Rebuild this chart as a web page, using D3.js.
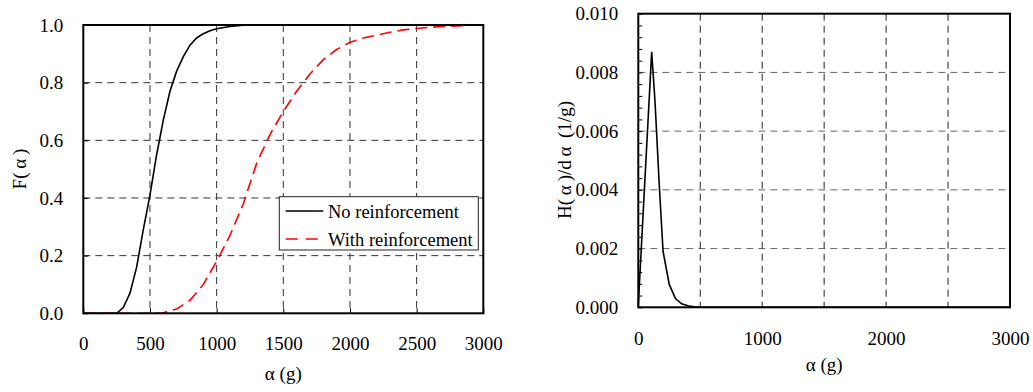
<!DOCTYPE html>
<html><head><meta charset="utf-8">
<script src="https://cdn.jsdelivr.net/npm/d3@7"></script>
<style>body{margin:0;background:#fff}svg{display:block}text{font-family:"Liberation Serif","Times New Roman",serif;fill:#000}</style>
</head><body>
<script>
// ---- Data ----
const cdfNoX = [0,100,200,250,300,350,400,450,500,550,600,650,700,750,800,850,900,950,1000,1100,1200,1300,1500,2000,2500,3000];
const cdfNoY = [0,0,0,0,0.02,0.07,0.16,0.29,0.41,0.55,0.67,0.77,0.84,0.89,0.93,0.955,0.97,0.98,0.987,0.995,0.999,1,1,1,1,1];
const cdfWithX = [0,100,200,300,400,500,600,700,800,900,1000,1100,1200,1300,1400,1500,1600,1700,1800,1900,2000,2100,2200,2300,2400,2500,2600,2700,2800,2900,3000];
const cdfWithY = [0,0,0,0,0,0,0.002,0.015,0.045,0.1,0.18,0.27,0.38,0.52,0.62,0.7,0.77,0.83,0.88,0.915,0.94,0.955,0.965,0.975,0.983,0.988,0.992,0.995,0.997,0.999,1];
const pdfX = [0,4,108,135,170,200,250,300,350,400,450,500,600,1000,2000,3000];
const pdfY = [0,0.0004,0.0087,0.007,0.0041,0.0019,0.00078,0.0003,0.00012,0.00005,0.00002,0.000005,0,0,0,0];
const leftXTicks = [0,500,1000,1500,2000,2500,3000];
const leftYTicks = [0,0.2,0.4,0.6,0.8,1.0];
const rightXTicks = [0,1000,2000,3000];
const rightXGrid = [500,1000,1500,2000,2500];
const rightYTicks = [0,0.002,0.004,0.006,0.008,0.010];
const seriesNames = ["No reinforcement","With reinforcement"];

const svg = d3.select("body").append("svg").attr("width",1033).attr("height",392);

function dashedGrid(g, x, y, xs, ys, x0,x1,y0,y1, colH, colV){
  g.selectAll(null).data(ys).enter().append("line")
    .attr("x1",x0).attr("x2",x1).attr("y1",d=>y(d)).attr("y2",d=>y(d))
    .attr("stroke",colH).attr("stroke-width",1).attr("stroke-dasharray","7,5");
  g.selectAll(null).data(xs).enter().append("line")
    .attr("y1",y0).attr("y2",y1).attr("x1",d=>x(d)).attr("x2",d=>x(d))
    .attr("stroke",colV).attr("stroke-width",1).attr("stroke-dasharray","7,5");
}

// ---- Left chart ----
{
  const L=83.3,R=483.3,T=25,B=313.3;
  const x=d3.scaleLinear().domain([0,3000]).range([L,R]);
  const y=d3.scaleLinear().domain([0,1]).range([B,T]);
  const g=svg.append("g");
  dashedGrid(g,x,y,leftXTicks.slice(1,-1),leftYTicks.slice(1,-1),L,R,T,B,"#333","#333");
  g.append("g").attr("transform",`translate(0,${B})`)
    .call(d3.axisTop(x).tickValues(leftXTicks).tickSize(5).tickFormat(""))
    .call(a=>a.select(".domain").remove());
  g.append("g").attr("transform",`translate(${L},0)`)
    .call(d3.axisRight(y).tickValues(leftYTicks).tickSize(5).tickFormat(""))
    .call(a=>a.select(".domain").remove());
  g.append("g").attr("transform",`translate(0,${B})`)
    .call(d3.axisBottom(x).tickValues(leftXTicks).tickSize(0).tickPadding(23).tickFormat(d3.format("d")))
    .call(a=>a.select(".domain").remove())
    .call(a=>a.selectAll("text").attr("font-size",19).attr("font-family","Liberation Serif"));
  g.append("g").attr("transform",`translate(${L},0)`)
    .call(d3.axisLeft(y).tickValues(leftYTicks).tickSize(0).tickPadding(20).tickFormat(d3.format(".1f")))
    .call(a=>a.select(".domain").remove())
    .call(a=>a.selectAll("text").attr("font-size",19).attr("font-family","Liberation Serif"));
  const line=d3.line().x(d=>x(d[0])).y(d=>y(d[1]));
  g.append("path").datum(d3.zip(cdfNoX,cdfNoY)).attr("d",line).attr("fill","none").attr("stroke","#000").attr("stroke-width",1.6);
  g.append("path").datum(d3.zip(cdfWithX,cdfWithY)).attr("d",line).attr("fill","none").attr("stroke","#f00").attr("stroke-width",1.6).attr("stroke-dasharray","12,6");
  g.append("rect").attr("x",L).attr("y",T).attr("width",R-L).attr("height",B-T).attr("fill","none").attr("stroke","#000").attr("stroke-width",2);
  const lg=g.append("g");
  lg.append("rect").attr("x",279.3).attr("y",196.7).attr("width",199).attr("height",53.3).attr("fill","#fff").attr("stroke","#222").attr("stroke-width",1);
  lg.append("line").attr("x1",285.7).attr("x2",323.3).attr("y1",211).attr("y2",211).attr("stroke","#000").attr("stroke-width",1.6);
  lg.append("line").attr("x1",285.7).attr("x2",323.3).attr("y1",239).attr("y2",239).attr("stroke","#f00").attr("stroke-width",1.6).attr("stroke-dasharray","12,8");
  lg.append("text").attr("x",328).attr("y",217.5).attr("font-size",18.5).text(seriesNames[0]);
  lg.append("text").attr("x",328).attr("y",245.5).attr("font-size",18.5).text(seriesNames[1]);
  g.append("text").attr("x",(L+R)/2).attr("y",380).attr("text-anchor","middle").attr("font-size",19).text("α (g)");
  g.append("text").attr("transform","translate(26,169) rotate(-90)").attr("text-anchor","middle").attr("font-size",19).text("F(\u2009α\u2009)");
}

// ---- Right chart ----
{
  const L=638.3,R=1010,T=13.7,B=307.3;
  const x=d3.scaleLinear().domain([0,3000]).range([L,R]);
  const y=d3.scaleLinear().domain([0,0.01]).range([B,T]);
  const g=svg.append("g");
  dashedGrid(g,x,y,rightXGrid,rightYTicks.slice(1,-1),L,R,T,B,"#666","#222");
  g.append("g").attr("transform",`translate(${L},0)`)
    .call(d3.axisRight(y).tickValues(d3.range(0,0.0101,0.0004)).tickSize(4).tickFormat(""))
    .call(a=>a.select(".domain").remove());
  g.append("g").attr("transform",`translate(0,${B})`)
    .call(d3.axisBottom(x).tickValues(rightXTicks).tickSize(0).tickPadding(24).tickFormat(d3.format("d")))
    .call(a=>a.select(".domain").remove())
    .call(a=>a.selectAll("text").attr("font-size",19).attr("font-family","Liberation Serif"));
  g.append("g").attr("transform",`translate(${L},0)`)
    .call(d3.axisLeft(y).tickValues(rightYTicks).tickSize(0).tickPadding(20).tickFormat(d3.format(".3f")))
    .call(a=>a.select(".domain").remove())
    .call(a=>a.selectAll("text").attr("font-size",19).attr("font-family","Liberation Serif"));
  const line=d3.line().x(d=>x(d[0])).y(d=>y(d[1]));
  g.append("path").datum(d3.zip(pdfX,pdfY)).attr("d",line).attr("fill","none").attr("stroke","#000").attr("stroke-width",1.6);
  g.append("rect").attr("x",L).attr("y",T).attr("width",R-L).attr("height",B-T).attr("fill","none").attr("stroke","#000").attr("stroke-width",2);
  g.append("text").attr("x",(L+R)/2).attr("y",371).attr("text-anchor","middle").attr("font-size",19).text("α (g)");
  g.append("text").attr("transform","translate(571,160) rotate(-90)").attr("text-anchor","middle").attr("font-size",19).text("H(\u2009α\u2009)/d\u2009α\u2009 (1/g)");
}
</script>
</body></html>
